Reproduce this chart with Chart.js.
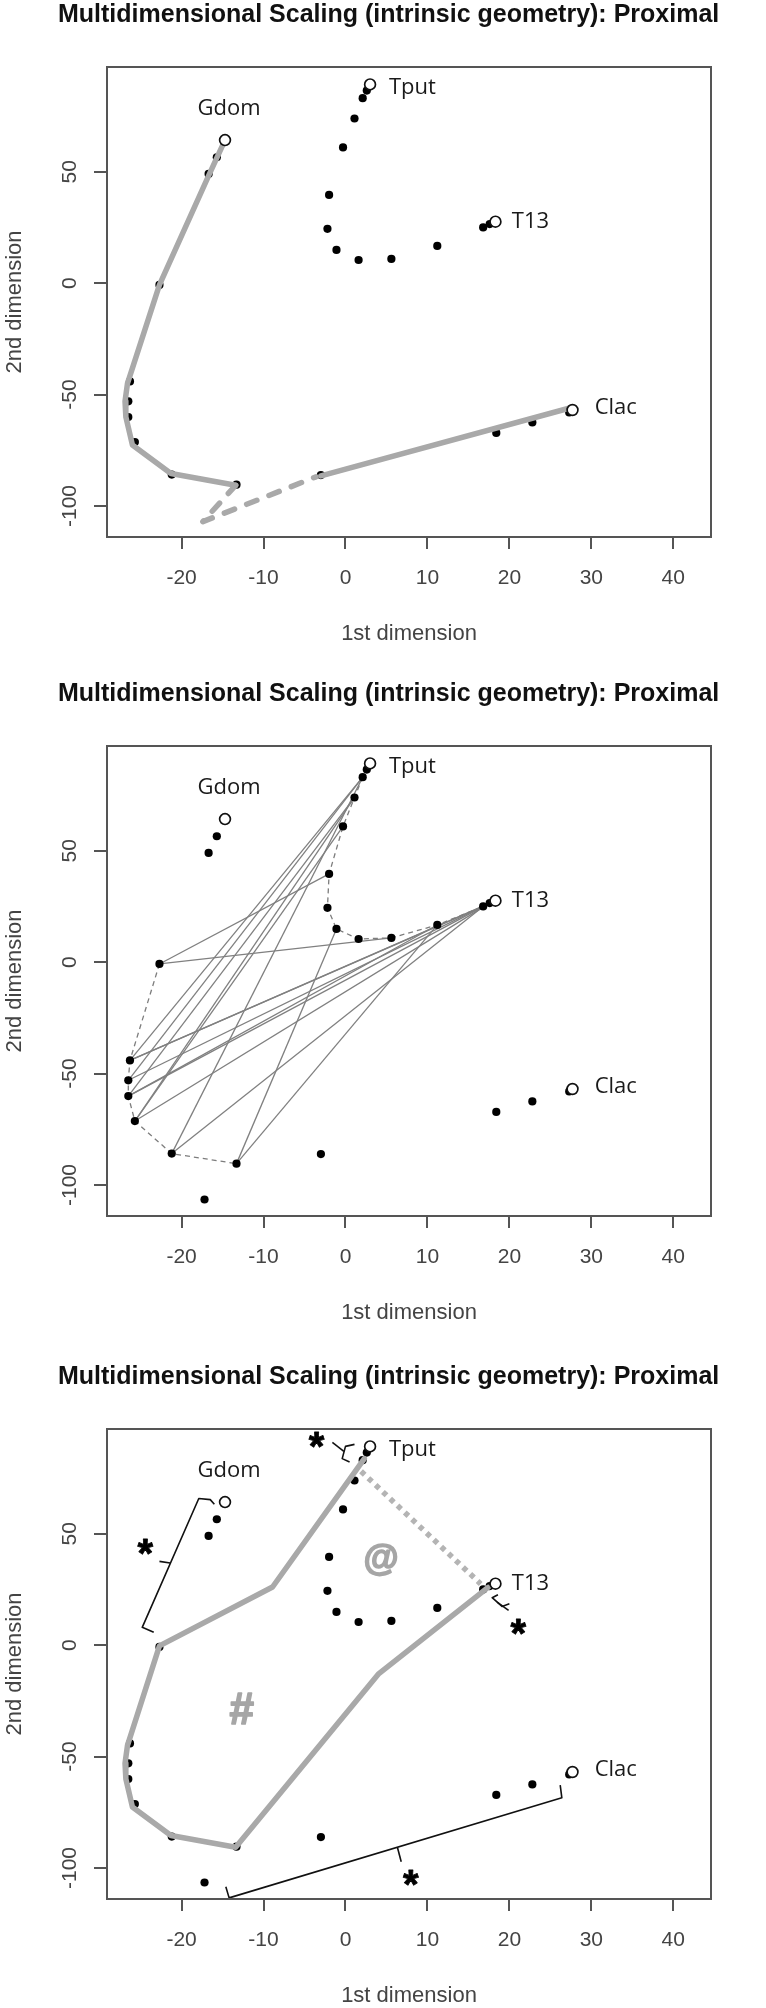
<!DOCTYPE html>
<html><head><meta charset="utf-8">
<script src="https://cdn.jsdelivr.net/npm/chart.js@4.4.1/dist/chart.umd.min.js"></script>
<style>
html,body{margin:0;padding:0;background:#fff;overflow:hidden;width:766px;height:2008px;position:relative;}
.panel{position:absolute;left:0;width:766px;height:679px;}
</style></head><body>
<div class="panel" style="top:0px"><canvas id="c1" width="766" height="679"></canvas></div>
<div class="panel" style="top:679px"><canvas id="c2" width="766" height="679"></canvas></div>
<div class="panel" style="top:1362px"><canvas id="c3" width="766" height="679"></canvas></div>
<script>
// ---------- texts & axes ----------
const titleText = 'Multidimensional Scaling (intrinsic geometry): Proximal';
const xAxisTitle = '1st dimension';
const yAxisTitle = '2nd dimension';
const xTicks = [-20, -10, 0, 10, 20, 30, 40];
const yTicks = [-100, -50, 0, 50];
const xRange = [-29.1, 44.6];
const yRange = [-113.9, 97.0];

// ---------- points (1st dim, 2nd dim) ----------
const gdomPts = [[-15.7, 56.5], [-16.7, 49.0]];
const leftArc = [[-22.7, -0.8], [-26.3, -44.1], [-26.5, -53.0], [-26.5, -60.1], [-25.7, -71.3], [-21.2, -85.9], [-13.3, -90.4]];
const lowestPt = [[-17.2, -106.5]];
const midLowPt = [[-3.0, -86.1]];
const clacPts = [[18.4, -67.2], [22.8, -62.5], [27.3, -58.0]];
const tputArc = [[2.6, 86.4], [2.1, 83.0], [1.1, 73.9], [-0.3, 60.9], [-2.0, 39.6], [-2.2, 24.4], [-1.1, 14.9], [1.6, 10.4], [5.6, 10.9], [11.2, 16.7], [16.8, 25.0], [17.6, 26.5]];

// open circles (anchors) and their labels
const anchorNames = ['Gdom', 'Tput', 'T13', 'Clac'];
const anchorX = [-14.7, 3.0, 18.3, 27.7];
const anchorY = [64.2, 89.2, 27.6, -56.9];
const labelX = [-14.2, 5.3, 20.3, 30.4];
const labelY = [78.1, 87.6, 27.7, -55.8];

// ---------- panel 1 paths ----------
const p1Solid1 = [[-14.7, 64.2], [-16.6, 49.0], [-22.7, -0.8], [-26.6, -45.0], [-26.9, -53.0], [-26.8, -60.0], [-26.0, -72.6], [-21.3, -85.4], [-13.4, -90.7]];
const p1Dashed = [[-13.4, -90.7], [-17.4, -107.0], [-3.6, -86.9]];
const p1Solid2 = [[-3.0, -86.5], [27.6, -55.8]];

// ---------- panel 2 links (index into leftArc -> index into tputArc) ----------
const linkLeft  = [1, 2, 3, 4, 5, 4, 1, 1, 2, 3, 4, 3, 5, 6, 6, 0, 0];
const linkUpper = [1, 1, 2, 2, 1, 3, 11, 10, 11, 11, 11, 9, 10, 9, 6, 4, 8];

// ---------- panel 3 paths & marks ----------
const p3Solid = [[2.3, 83.7], [-8.9, 26.1], [-22.7, -0.3], [-26.6, -45.0], [-26.9, -53.0], [-26.8, -60.0], [-26.0, -72.6], [-21.3, -85.4], [-13.4, -90.7], [4.0, -13.0], [17.4, 25.9]];
const p3Dotted = [[1.9, 78.0], [16.5, 27.5]];
const braceGdom = [[-16.0, 63.2], [-16.5, 65.3], [-17.9, 65.8], [-24.8, 8.0], [-23.4, 5.8]];
const nubGdom = [[-21.4, 36.9], [-22.7, 37.6]];
const braceTput = [[1.1, 90.1], [0.0, 89.2], [-0.4, 83.7], [0.5, 82.2]];
const nubTput = [[-0.2, 87.0], [-1.6, 91.0]];
const braceT13 = [[18.6, 22.6], [17.9, 21.3], [19.1, 17.4], [20.0, 18.6]];
const nubT13 = [[18.5, 19.3], [19.9, 15.6]];
const braceLow = [[-14.6, -108.4], [-14.2, -113.4], [26.4, -68.5], [26.2, -62.8]];
const nubLow = [[6.35, -90.9], [6.8, -97.2]];
const starX = [-24.4, -3.5, 21.1, 8.0];
const starY = [44.1, 91.9, 8.2, -104.6];
const symText = ['@', '#'];
const symX = [4.4, -12.7];
const symY = [38.1, -28.4];

// ---------- helpers ----------
const P = arr => arr.map(([x, y]) => ({x, y}));
const FONT = '"Liberation Sans", Arial, sans-serif';

function filledDs(arr, order, r) {
  return {data: P(arr), showLine: false, pointRadius: r || 4.1, pointBackgroundColor: '#000',
          pointBorderColor: '#000', pointBorderWidth: 0, order};
}
function openDs(order) {
  return {data: anchorX.map((x, i) => ({x, y: anchorY[i]})), showLine: false, pointRadius: 5.4,
          pointBackgroundColor: '#fff', pointBorderColor: '#111', pointBorderWidth: 1.7, order};
}
function lineDs(arr, color, width, dash, cap, order) {
  return {data: P(arr), showLine: true, pointRadius: 0, borderColor: color, borderWidth: width,
          borderDash: dash || [], borderCapStyle: cap || 'round', borderJoinStyle: 'round',
          fill: false, tension: 0, order};
}

function centerGlyph(ctx, txt, px, py, stroke) {
  const m = ctx.measureText(txt);
  const w = m.actualBoundingBoxRight + m.actualBoundingBoxLeft;
  const h = m.actualBoundingBoxAscent + m.actualBoundingBoxDescent;
  const tx = px - w / 2 + m.actualBoundingBoxLeft, ty = py + h / 2 - m.actualBoundingBoxDescent;
  ctx.fillText(txt, tx, ty);
  if (stroke) { ctx.lineWidth = stroke; ctx.strokeStyle = ctx.fillStyle; ctx.lineJoin = 'round'; ctx.strokeText(txt, tx, ty); }
}

const annotPlugin = {
  id: 'annot',
  afterDatasetsDraw(chart) {
    const {ctx, chartArea: a, scales: {x, y}} = chart;
    const panel = chart.options.plugins.annot.panel;
    ctx.save();
    // plot box
    ctx.strokeStyle = '#555'; ctx.lineWidth = 2;
    ctx.strokeRect(a.left, a.top, a.right - a.left, a.bottom - a.top);
    // y tick labels (parallel to axis)
    ctx.fillStyle = '#444'; ctx.font = '21px ' + FONT;
    ctx.textAlign = 'center'; ctx.textBaseline = 'middle';
    yTicks.forEach(v => {
      ctx.save(); ctx.translate(a.left - 37, y.getPixelForValue(v)); ctx.rotate(-Math.PI / 2);
      ctx.fillText(String(v), 0, 0); ctx.restore();
    });
    // title
    ctx.fillStyle = '#111'; ctx.font = 'bold 25px ' + FONT;
    ctx.textAlign = 'left'; ctx.textBaseline = 'alphabetic';
    ctx.fillText(titleText, 58, 22.3);
    // anchor labels
    ctx.fillStyle = '#1a1a1a'; ctx.font = '22px "Open Sans", sans-serif'; ctx.textBaseline = 'middle';
    anchorNames.forEach((n, i) => {
      ctx.textAlign = i === 0 ? 'center' : 'left';
      ctx.fillText(n, x.getPixelForValue(labelX[i]), y.getPixelForValue(labelY[i]));
    });
    if (panel === 3) {
      ctx.textAlign = 'left'; ctx.textBaseline = 'alphabetic';
      ctx.fillStyle = '#a6a6a6';
      ctx.font = 'bold 36px ' + FONT;
      centerGlyph(ctx, symText[0], x.getPixelForValue(symX[0]), y.getPixelForValue(symY[0]), 1.6);
      ctx.font = 'bold 44px ' + FONT;
      centerGlyph(ctx, symText[1], x.getPixelForValue(symX[1]), y.getPixelForValue(symY[1]), 1.6);
      ctx.fillStyle = '#000'; ctx.font = 'bold 40px ' + FONT;
      starX.forEach((sx, i) => centerGlyph(ctx, '*', x.getPixelForValue(sx), y.getPixelForValue(starY[i]), 0.8));
    }
    ctx.restore();
  }
};

function makeChart(id, panel, datasets) {
  return new Chart(document.getElementById(id), {
    type: 'scatter',
    data: {datasets},
    plugins: [annotPlugin],
    options: {
      responsive: false, animation: false, devicePixelRatio: 1, events: [],
      layout: {padding: {left: 0, right: 55, top: 67, bottom: 0}},
      plugins: {legend: {display: false}, tooltip: {enabled: false}, title: {display: false}, annot: {panel}},
      scales: {
        x: {
          type: 'linear', position: 'bottom', min: xRange[0], max: xRange[1],
          afterBuildTicks: s => { s.ticks = xTicks.map(v => ({value: v})); },
          afterFit: s => { s.height = 142; },
          grid: {display: true, drawOnChartArea: false, drawTicks: true, tickLength: 12, color: '#555', lineWidth: 2},
          border: {display: false},
          ticks: {autoSkip: false, maxRotation: 0, minRotation: 0, padding: 17, color: '#444',
                  font: {family: FONT, size: 21}, callback: v => String(v)},
          title: {display: true, text: xAxisTitle, color: '#444', font: {family: FONT, size: 22},
                  padding: {top: 0, bottom: 31.5}}
        },
        y: {
          type: 'linear', position: 'left', min: yRange[0], max: yRange[1],
          afterBuildTicks: s => { s.ticks = yTicks.map(v => ({value: v})); },
          afterFit: s => { s.width = 107; },
          grid: {display: true, drawOnChartArea: false, drawTicks: true, tickLength: 13, color: '#555', lineWidth: 2},
          border: {display: false},
          ticks: {display: false},
          title: {display: true, text: yAxisTitle, color: '#444', font: {family: FONT, size: 22},
                  padding: {top: 1.8, bottom: 0}}
        }
      }
    }
  });
}

const GREY = '#a9a9a9';
const allFilled = gdomPts.concat(leftArc, lowestPt, midLowPt, clacPts, tputArc);

// Panel 1
makeChart('c1', 1, [
  openDs(0),
  lineDs(p1Solid1, GREY, 5.5, [], 'round', 1),
  lineDs(p1Dashed, GREY, 5.5, [11, 13], 'round', 1),
  lineDs(p1Solid2, GREY, 5.5, [], 'round', 1),
  filledDs(gdomPts.concat(leftArc, midLowPt, clacPts, tputArc), 2)
]);

// Panel 2
const p2 = [openDs(0), filledDs(allFilled, 1)];
p2.push(lineDs(leftArc, '#7d7d7d', 1.3, [5, 4], 'butt', 2));
p2.push(lineDs(tputArc.slice(1), '#7d7d7d', 1.3, [5, 4], 'butt', 2));
linkLeft.forEach((li, k) => {
  p2.push(lineDs([leftArc[li], tputArc[linkUpper[k]]], '#808080', 1.3, [], 'butt', 2));
});
makeChart('c2', 2, p2);

// Panel 3
makeChart('c3', 3, [
  openDs(0),
  lineDs(braceGdom, '#111', 1.6, [], 'butt', 1),
  lineDs(nubGdom, '#111', 1.6, [], 'butt', 1),
  lineDs(braceTput, '#111', 1.6, [], 'butt', 1),
  lineDs(nubTput, '#111', 1.6, [], 'butt', 1),
  lineDs(braceT13, '#111', 1.6, [], 'butt', 1),
  lineDs(nubT13, '#111', 1.6, [], 'butt', 1),
  lineDs(braceLow, '#111', 1.6, [], 'butt', 1),
  lineDs(nubLow, '#111', 1.6, [], 'butt', 1),
  lineDs(p3Solid, GREY, 5.5, [], 'round', 2),
  lineDs(p3Dotted, '#b4b4b4', 5.5, [5, 5], 'butt', 2),
  filledDs(allFilled, 3)
]);
</script>
</body></html>
